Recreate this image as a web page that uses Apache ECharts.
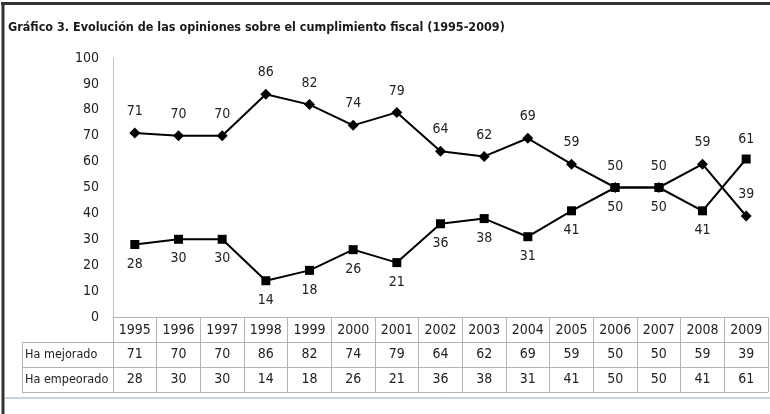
<!DOCTYPE html>
<html>
<head>
<meta charset="utf-8">
<script src="https://cdn.jsdelivr.net/npm/echarts@6/dist/echarts.min.js"></script>
<style>
  html, body { margin: 0; padding: 0; background: #fff; }
  #chart-container { width: 770px; height: 414px; }
</style>
</head>
<body>
<div id="chart-container"></div>
<script>
var years = ['1995', '1996', '1997', '1998', '1999', '2000', '2001', '2002', '2003', '2004', '2005', '2006', '2007', '2008', '2009'];
var mejorado = [71, 70, 70, 86, 82, 74, 79, 64, 62, 69, 59, 50, 50, 59, 39];
var empeorado = [28, 30, 30, 14, 18, 26, 21, 36, 38, 31, 41, 50, 50, 41, 61];
// where the square labels sit (the last one goes above)
var empeoradoLabelPos = ['bottom', 'bottom', 'bottom', 'bottom', 'bottom', 'bottom', 'bottom', 'bottom', 'bottom', 'bottom', 'bottom', 'bottom', 'bottom', 'bottom', 'top'];
var rowNames = ['Ha mejorado', 'Ha empeorado'];
var yTicks = { min: 0, max: 100, interval: 10 };

var font = "'Liberation Sans Narrow', 'DejaVu Sans Condensed', 'Arial Narrow', sans-serif";
var gridLine = '#b4b4b4';
var numSize = 14;

var chartDom = document.getElementById('chart-container');
var myChart = echarts.init(chartDom);

var option = {
  animation: false,
  textStyle: { fontFamily: font },
  title: {
    text: 'Gráfico 3. Evolución de las opiniones sobre el cumplimiento fiscal (1995-2009)',
    left: 8,
    top: 21,
    padding: 0,
    textStyle: { fontFamily: font, fontSize: 12.5, fontWeight: 'bold', color: '#1a1a1a' }
  },
  grid: { left: 113, right: 2, top: 58, bottom: 97 },
  xAxis: [
    {
      type: 'category',
      data: years,
      boundaryGap: true,
      axisLine: { lineStyle: { color: gridLine, width: 1 } },
      axisTick: { show: true, length: 75, lineStyle: { color: gridLine } },
      axisLabel: { fontFamily: font, fontSize: numSize, color: '#222', margin: 6 }
    },
    {
      type: 'category',
      data: years,
      position: 'bottom',
      offset: 25,
      axisLine: { lineStyle: { color: gridLine } },
      axisTick: { show: false },
      axisLabel: {
        fontFamily: font, fontSize: numSize, color: '#222', margin: 5,
        formatter: function (v, i) { return String(mejorado[i]); }
      }
    },
    {
      type: 'category',
      data: years,
      position: 'bottom',
      offset: 50,
      axisLine: { lineStyle: { color: gridLine } },
      axisTick: { show: false },
      axisLabel: {
        fontFamily: font, fontSize: numSize, color: '#222', margin: 5,
        formatter: function (v, i) { return String(empeorado[i]); }
      }
    },
    {
      type: 'category',
      data: years,
      position: 'bottom',
      offset: 75,
      axisLine: { lineStyle: { color: gridLine } },
      axisTick: { show: false },
      axisLabel: { show: false }
    }
  ],
  yAxis: {
    type: 'value',
    min: yTicks.min,
    max: yTicks.max,
    interval: yTicks.interval,
    axisLine: { show: true, lineStyle: { color: '#c4c4c4' } },
    axisTick: { show: false },
    splitLine: { show: false },
    axisLabel: { fontFamily: font, fontSize: numSize, color: '#222', margin: 14 }
  },
  series: [
    {
      name: rowNames[0],
      type: 'line',
      data: mejorado,
      symbol: 'diamond',
      symbolSize: 11,
      itemStyle: { color: '#000' },
      lineStyle: { color: '#000', width: 2 },
      label: {
        show: true, position: 'top', distance: 9,
        fontFamily: font, fontSize: numSize, color: '#222'
      }
    },
    {
      name: rowNames[1],
      type: 'line',
      data: empeorado.map(function (v, i) {
        return { value: v, label: { position: empeoradoLabelPos[i] } };
      }),
      symbol: 'rect',
      symbolSize: 9,
      itemStyle: { color: '#000' },
      lineStyle: { color: '#000', width: 2 },
      label: {
        show: true, position: 'bottom', distance: 8,
        fontFamily: font, fontSize: numSize, color: '#222'
      }
    }
  ],
  graphic: [
    // outer frame
    { type: 'line', shape: { x1: 1, y1: 3.5, x2: 770, y2: 3.5 }, style: { stroke: '#333', lineWidth: 3 } },
    { type: 'line', shape: { x1: 3, y1: 2, x2: 3, y2: 414 }, style: { stroke: '#333', lineWidth: 3 } },
    { type: 'line', shape: { x1: 5, y1: 398, x2: 770, y2: 398 }, style: { stroke: '#c9d5de', lineWidth: 2 } },
    // row label column
    { type: 'line', shape: { x1: 22, y1: 342.5, x2: 113, y2: 342.5 }, style: { stroke: gridLine, lineWidth: 1 } },
    { type: 'line', shape: { x1: 22, y1: 367.5, x2: 113, y2: 367.5 }, style: { stroke: gridLine, lineWidth: 1 } },
    { type: 'line', shape: { x1: 22, y1: 392.5, x2: 113, y2: 392.5 }, style: { stroke: gridLine, lineWidth: 1 } },
    { type: 'line', shape: { x1: 22.5, y1: 342, x2: 22.5, y2: 393 }, style: { stroke: gridLine, lineWidth: 1 } },
    { type: 'text', left: 25, top: 348, style: { text: rowNames[0], font: '12.5px ' + font, fill: '#222' } },
    { type: 'text', left: 25, top: 373, style: { text: rowNames[1], font: '12.5px ' + font, fill: '#222' } }
  ]
};

option && myChart.setOption(option);
</script>
</body>
</html>
